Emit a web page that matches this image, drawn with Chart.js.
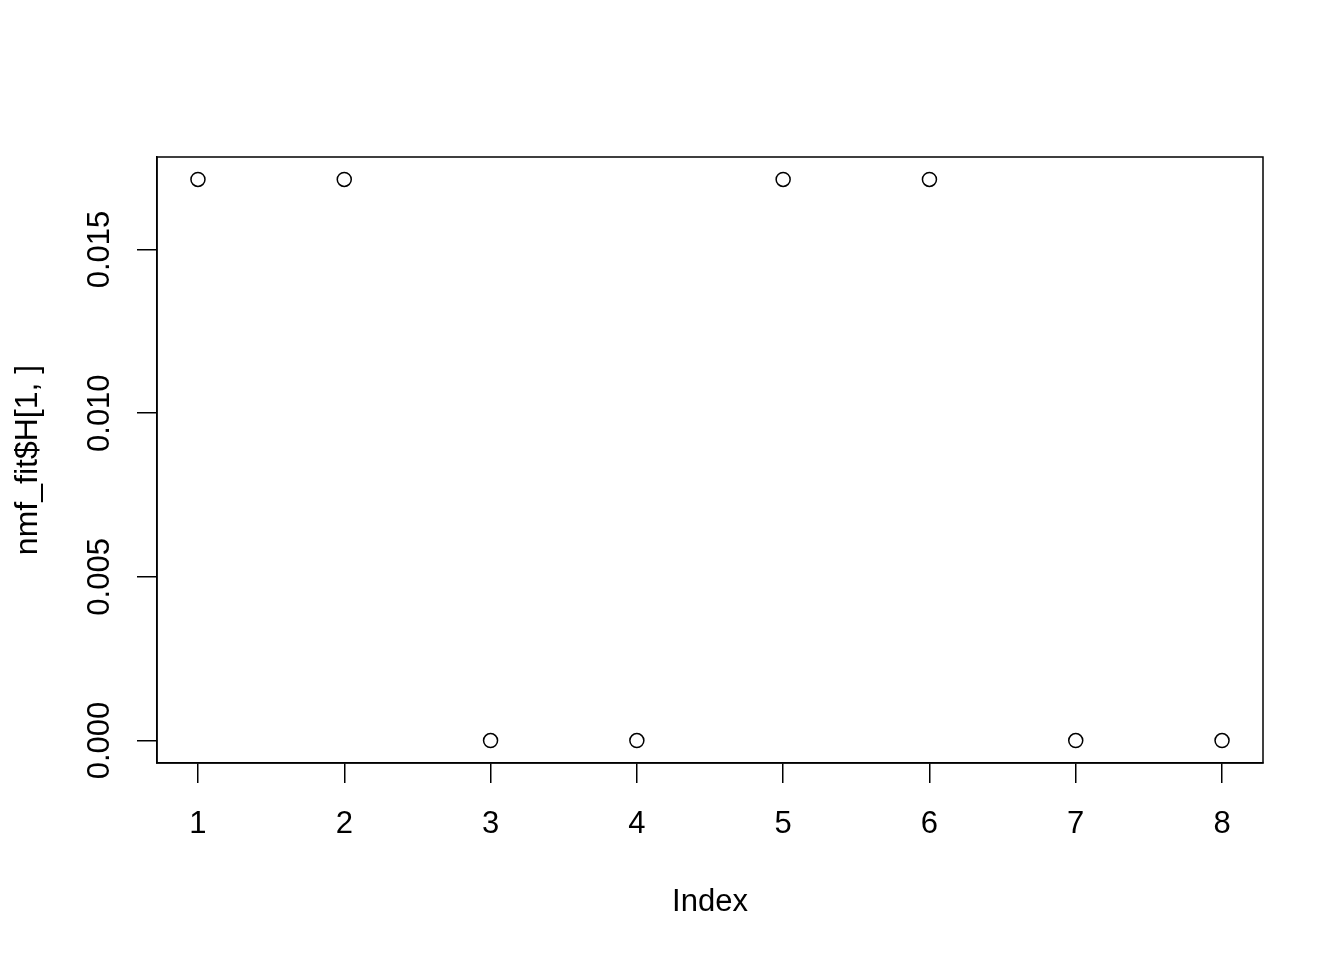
<!DOCTYPE html>
<html>
<head>
<meta charset="utf-8">
<script src="https://cdn.jsdelivr.net/npm/chart.js@4/dist/chart.umd.min.js"></script>
<style>
  html, body { margin: 0; padding: 0; background: #fff; }
  canvas { display: block; }
</style>
</head>
<body>
<canvas id="plot" width="1344" height="960"></canvas>
<script>
/* nmf_fit$H[1, ] index plot */
var indexList = [1, 2, 3, 4, 5, 6, 7, 8];
var hValues = [0.01714, 0.01714, 0, 0, 0.01714, 0.01714, 0, 0];
var xTickValues = [1, 2, 3, 4, 5, 6, 7, 8];
var yTickValues = [0, 0.005, 0.010, 0.015];
var yTickLabels = ["0.000", "0.005", "0.010", "0.015"];

var fontFamily = "'Liberation Sans', Arial, Helvetica, sans-serif";
var fontSize = 31;

// R style range: 4% padding on both sides
function padRange(list) {
    var lo = Math.min.apply(null, list), hi = Math.max.apply(null, list);
    var d = (hi - lo) * 0.04;
    return [lo - d, hi + d];
}
var xRange = padRange(indexList);
var yRange = padRange(hValues);

var points = [];
for (var i = 0; i < indexList.length; i++) {
    points.push({ x: indexList[i], y: hValues[i] });
}

// box around plot area + rotated y tick labels
var boxPlugin = {
    id: 'rbox',
    afterDraw: function (chart) {
        var ctx = chart.ctx, a = chart.chartArea;
        ctx.save();
        ctx.strokeStyle = '#000';
        ctx.lineWidth = 1.5;
        ctx.strokeRect(a.left, a.top, a.right - a.left, a.bottom - a.top);

        var yScale = chart.scales.y;
        ctx.fillStyle = '#000';
        ctx.font = fontSize + 'px ' + fontFamily;
        ctx.textAlign = 'center';
        ctx.textBaseline = 'middle';
        for (var i = 0; i < yTickValues.length; i++) {
            var py = yScale.getPixelForValue(yTickValues[i]);
            ctx.save();
            ctx.translate(100, py);
            ctx.rotate(-Math.PI / 2);
            ctx.fillText(yTickLabels[i], 0, 0);
            ctx.restore();
        }
        ctx.restore();
    }
};

var ctx = document.getElementById('plot');
var myChart = new Chart(ctx, {
    type: 'scatter',
    data: {
        datasets: [{
            data: points,
            pointStyle: 'circle',
            pointRadius: 7,
            pointHoverRadius: 7,
            pointBorderWidth: 1.5,
            borderColor: '#000',
            backgroundColor: 'rgba(0,0,0,0)',
            clip: false
        }]
    },
    options: {
        responsive: false,
        animation: false,
        devicePixelRatio: 1,
        layout: { padding: { left: 0, top: 157, right: 81, bottom: 0 } },
        plugins: {
            legend: { display: false },
            tooltip: { enabled: false }
        },
        scales: {
            x: {
                type: 'linear',
                min: xRange[0],
                max: xRange[1],
                afterBuildTicks: function (scale) {
                    scale.ticks = xTickValues.map(function (v) { return { value: v }; });
                },
                afterFit: function (scale) { scale.height = 197; },
                grid: { drawOnChartArea: false, drawTicks: true, tickLength: 20, color: '#000', lineWidth: 1.5 },
                border: { display: true, color: '#000', width: 1.5 },
                ticks: {
                    color: '#000',
                    padding: 23,
                    maxRotation: 0,
                    autoSkip: false,
                    font: { family: fontFamily, size: fontSize },
                    callback: function (v) { return String(v); }
                },
                title: {
                    display: true,
                    text: 'Index',
                    color: '#000',
                    font: { family: fontFamily, size: fontSize },
                    padding: { top: 0, bottom: 39 }
                }
            },
            y: {
                type: 'linear',
                min: yRange[0],
                max: yRange[1],
                afterBuildTicks: function (scale) {
                    scale.ticks = yTickValues.map(function (v) { return { value: v }; });
                },
                afterFit: function (scale) { scale.width = 157; },
                grid: { drawOnChartArea: false, drawTicks: true, tickLength: 20, color: '#000', lineWidth: 1.5 },
                border: { display: true, color: '#000', width: 1.5 },
                ticks: { display: false },
                title: {
                    display: true,
                    text: 'nmf_fit$H[1, ]',
                    color: '#000',
                    font: { family: fontFamily, size: fontSize + 1 },
                    padding: { top: 9, bottom: 0 }
                }
            }
        }
    },
    plugins: [boxPlugin]
});
</script>
</body>
</html>
